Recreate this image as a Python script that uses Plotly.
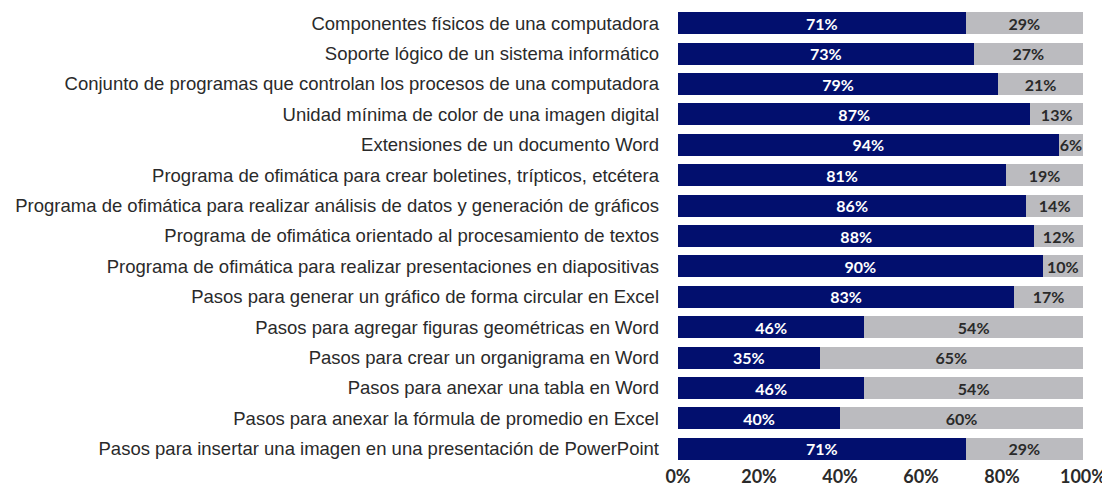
import plotly.graph_objects as go

categories = [
    "Componentes físicos de una computadora",
    "Soporte lógico de un sistema informático",
    "Conjunto de programas que controlan los procesos de una computadora",
    "Unidad mínima de color de una imagen digital",
    "Extensiones de un documento Word",
    "Programa de ofimática para crear boletines, trípticos, etcétera",
    "Programa de ofimática para realizar análisis de datos y generación de gráficos",
    "Programa de ofimática orientado al procesamiento de textos",
    "Programa de ofimática para realizar presentaciones en diapositivas",
    "Pasos para generar un gráfico de forma circular en Excel",
    "Pasos para agregar figuras geométricas en Word",
    "Pasos para crear un organigrama en Word",
    "Pasos para anexar una tabla en Word",
    "Pasos para anexar la fórmula de promedio en Excel",
    "Pasos para insertar una imagen en una presentación de PowerPoint",
]
correct = [71, 73, 79, 87, 94, 81, 86, 88, 90, 83, 46, 35, 46, 40, 71]
incorrect = [29, 27, 21, 13, 6, 19, 14, 12, 10, 17, 54, 65, 54, 60, 29]
tick_vals = [0, 20, 40, 60, 80, 100]
tick_text = ["0%", "20%", "40%", "60%", "80%", "100%"]

fig = go.Figure()
fig.add_trace(go.Bar(
    y=categories, x=correct, orientation="h",
    marker=dict(color="#020F6E", line=dict(width=0)),
    text=[f"{v}%" for v in correct], textposition="inside",
    insidetextanchor="middle", constraintext="none",
    textfont=dict(color="white", size=16, family="Lato", weight="bold"),
    hoverinfo="skip", showlegend=False,
))
fig.add_trace(go.Bar(
    y=categories, x=incorrect, orientation="h",
    marker=dict(color="#BBBBBF", line=dict(width=0)),
    text=[f"{v}%" for v in incorrect], textposition="inside",
    insidetextanchor="middle", constraintext="none",
    textfont=dict(color="#2A2A2A", size=16, family="Lato", weight="bold"),
    hoverinfo="skip", showlegend=False,
))

fig.update_layout(
    barmode="stack",
    bargap=0.28,
    width=1102, height=480,
    margin=dict(l=670, r=27, t=0, b=24),
    paper_bgcolor="white", plot_bgcolor="white",
    uniformtext=dict(mode="show", minsize=16),
    xaxis=dict(range=[0, 100], tickvals=tick_vals, ticktext=tick_text,
               showgrid=False, zeroline=False, showline=False,
               tickfont=dict(size=18, family="Lato", color="#2A2A2A", weight="bold"),
               ticklabelstandoff=0,
               automargin=False, fixedrange=True),
    yaxis=dict(categoryorder="array", categoryarray=categories, autorange="reversed",
               showgrid=False, zeroline=False, showline=False,
               tickfont=dict(size=18.5, family="Liberation Sans", color="#2A2A2A"),
               ticklabelstandoff=18,
               automargin=False, fixedrange=True),
)

fig.write_html("out.html")
